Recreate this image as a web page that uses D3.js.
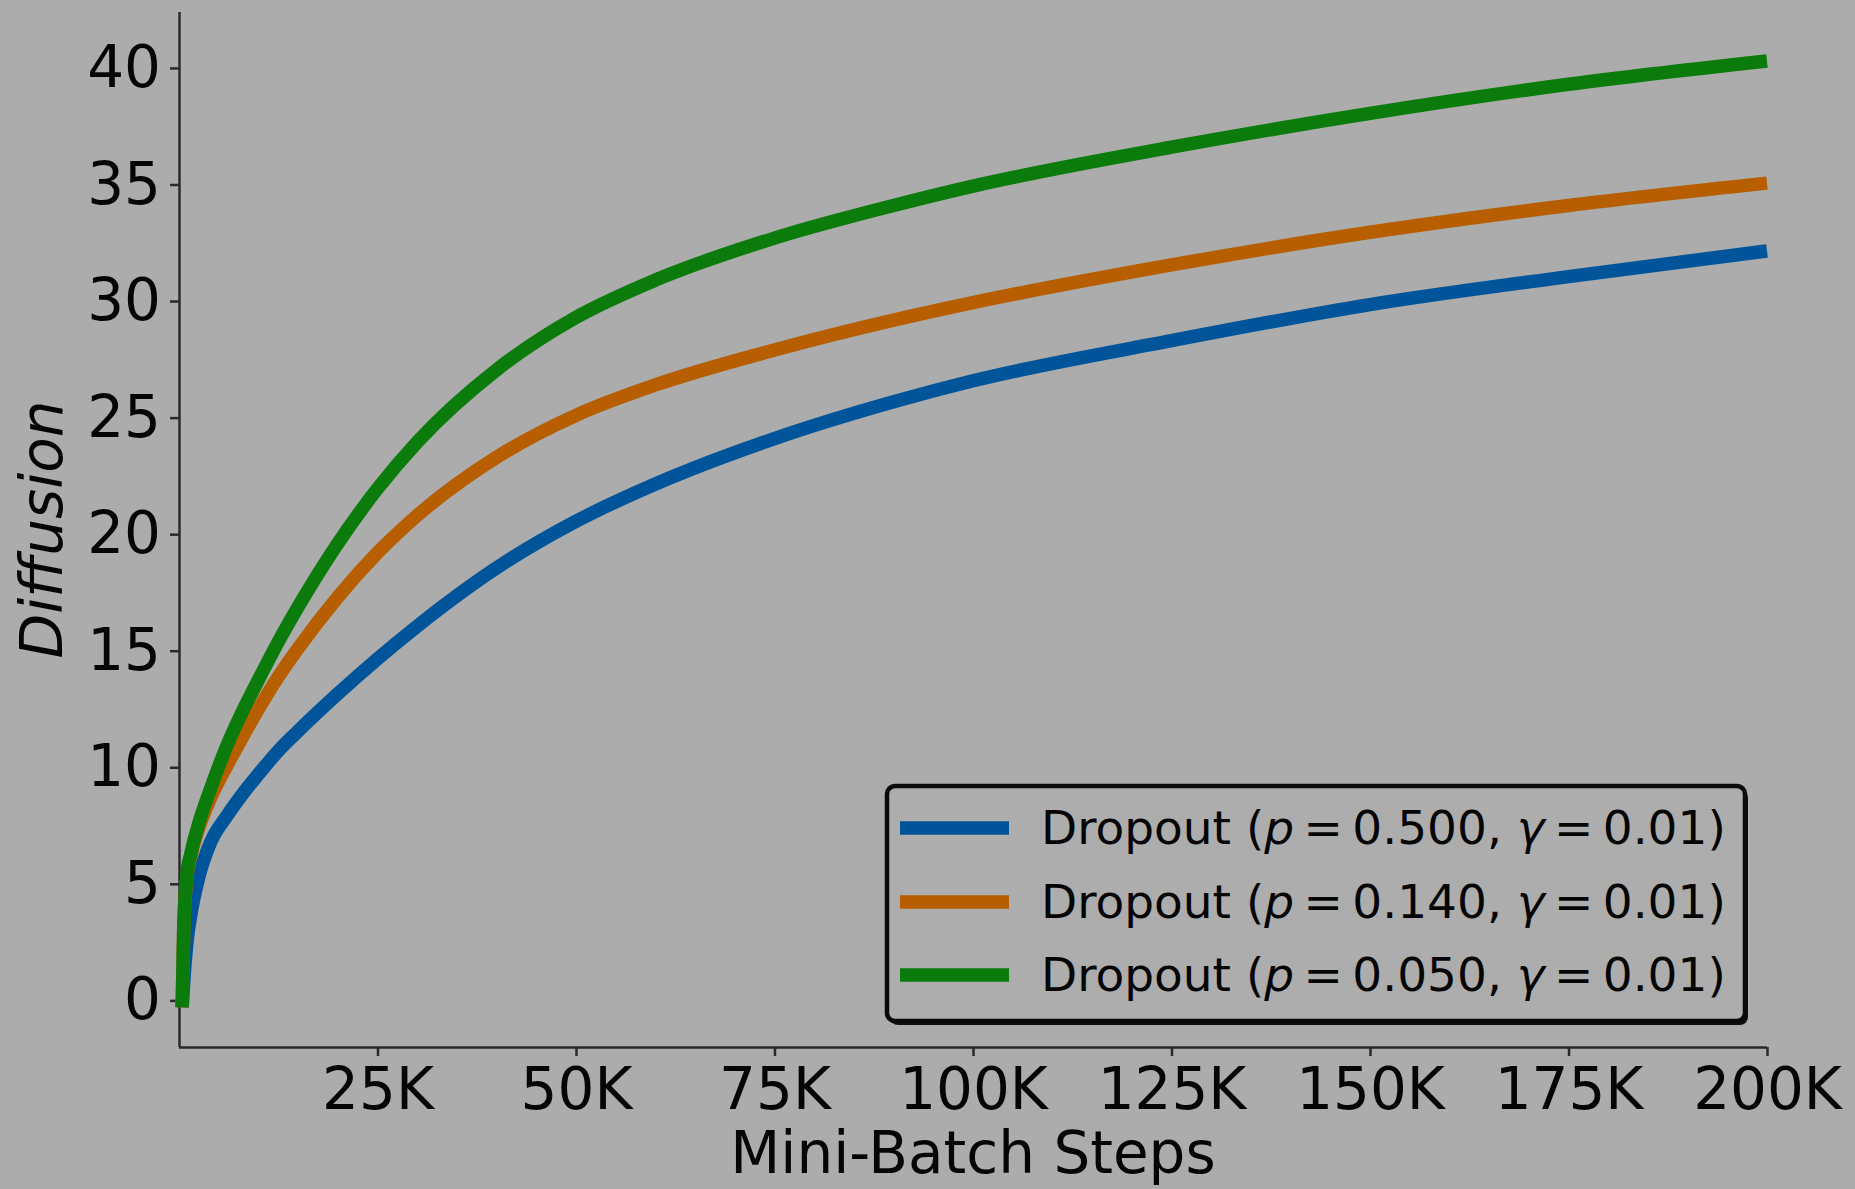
<!DOCTYPE html>
<html>
<head>
<meta charset="utf-8">
<script src="https://cdn.jsdelivr.net/npm/d3@7"></script>
<style>
  html, body { margin: 0; padding: 0; background: #acacac; }
  svg { display: block; }
  text { font-family: "DejaVu Sans", sans-serif; fill: #050505; }
</style>
</head>
<body>
<svg id="chart" width="1855" height="1189"></svg>
<script>
// Mini-batch steps (thousands) at which diffusion was recorded
const stepsK = [0.4, 0.6, 1, 1.5, 2.5, 4, 6, 8, 10, 12.5, 15, 20, 25, 30, 40, 50, 60, 75, 90, 100, 125, 150, 175, 200];

// Diffusion for each dropout rate
const diffusionP500 = [-0.3, 0.8, 2.5, 3.7, 5.3, 6.8, 7.9, 8.85, 9.7, 10.7, 11.55, 13.15, 14.65, 16.05, 18.55, 20.55, 22.15, 24.1, 25.68, 26.58, 28.3, 29.85, 31.05, 32.15];
const diffusionP140 = [-0.3, 3.1, 5.3, 6.2, 7.4, 8.7, 10.05, 11.3, 12.5, 13.88, 15.1, 17.3, 19.2, 20.8, 23.3, 25.1, 26.4, 27.9, 29.18, 29.93, 31.55, 32.95, 34.1, 35.06];
const diffusionP050 = [-0.3, 3.2, 5.4, 6.3, 7.6, 9.1, 10.9, 12.4, 13.75, 15.38, 16.88, 19.6, 21.95, 23.95, 27.05, 29.3, 30.9, 32.7, 34.1, 34.93, 36.6, 38.05, 39.3, 40.3];

const dropoutRates = ["0.500", "0.140", "0.050"];
const gammaValue = "0.01";
const seriesColors = ["#00559a", "#b65e00", "#0b7c0b"];

const xTickValues = [25000, 50000, 75000, 100000, 125000, 150000, 175000, 200000];
const yTickValues = [0, 5, 10, 15, 20, 25, 30, 35, 40];

const series = [diffusionP500, diffusionP140, diffusionP050].map((vals, i) => ({
  rate: dropoutRates[i],
  color: seriesColors[i],
  points: stepsK.map((s, j) => ({ step: s * 1000, value: vals[j] }))
}));

const svg = d3.select("#chart");
const plot = { left: 179, right: 1767, top: 12, bottom: 1047 };

const x = d3.scaleLinear().domain([0, 200000]).range([plot.left, plot.right]);
const y = d3.scaleLinear().domain([-2.0, 42.4]).range([plot.bottom, plot.top]);

const fontSize = 58;

// Axes
const xAxis = d3.axisBottom(x)
  .tickValues(xTickValues)
  .tickFormat(d => (d / 1000) + "K")
  .tickSize(9)
  .tickPadding(12)
  .tickSizeOuter(0);
const yAxis = d3.axisLeft(y)
  .tickValues(yTickValues)
  .tickSize(9)
  .tickPadding(9)
  .tickSizeOuter(0);

const gx = svg.append("g")
  .attr("transform", `translate(0,${plot.bottom})`)
  .call(xAxis);
const gy = svg.append("g")
  .attr("transform", `translate(${plot.left},0)`)
  .call(yAxis);

[gx, gy].forEach(g => {
  g.select(".domain").attr("stroke", "#2a2a2a").attr("stroke-width", 2.5);
  g.selectAll(".tick line").attr("stroke", "#2a2a2a").attr("stroke-width", 2.5);
  g.selectAll(".tick text")
    .attr("font-size", fontSize)
    .attr("font-family", "DejaVu Sans")
    .attr("fill", "#050505");
});
gy.select(".domain").attr("d", `M0.5,${plot.top}V${plot.bottom}`);
gx.select(".domain").attr("d", `M${plot.left},0.5H${plot.right}`);

// Axis titles
svg.append("text")
  .attr("x", (plot.left + plot.right) / 2)
  .attr("y", 1173)
  .attr("text-anchor", "middle")
  .attr("font-size", fontSize)
  .text("Mini-Batch Steps");

svg.append("text")
  .attr("transform", `translate(62,${(plot.top + plot.bottom) / 2}) rotate(-90)`)
  .attr("text-anchor", "middle")
  .attr("font-size", fontSize)
  .attr("font-style", "italic")
  .text("Diffusion");

// Curves
const line = d3.line()
  .x(d => x(d.step))
  .y(d => y(d.value))
  .curve(d3.curveMonotoneX);

svg.append("g")
  .selectAll("path")
  .data(series)
  .join("path")
  .attr("d", d => line(d.points))
  .attr("fill", "none")
  .attr("stroke", d => d.color)
  .attr("stroke-width", 13.5)
  .attr("stroke-linecap", "butt")
  .attr("stroke-linejoin", "round");

// Legend
const legend = { x: 887, y: 786, w: 858, h: 235, rowY: [828, 902, 975] };
const lg = svg.append("g");
lg.append("rect")
  .attr("x", legend.x + 3).attr("y", legend.y + 4)
  .attr("width", legend.w).attr("height", legend.h)
  .attr("rx", 8).attr("fill", "#111");
lg.append("rect")
  .attr("x", legend.x).attr("y", legend.y)
  .attr("width", legend.w).attr("height", legend.h)
  .attr("rx", 8).attr("fill", "#adadad")
  .attr("stroke", "#0a0a0a").attr("stroke-width", 4.5);

const thin = "\u2009";
series.forEach((s, i) => {
  const cy = legend.rowY[i];
  lg.append("line")
    .attr("x1", 900).attr("x2", 1009)
    .attr("y1", cy).attr("y2", cy)
    .attr("stroke", s.color).attr("stroke-width", 13.5);
  const t = lg.append("text")
    .attr("x", 1041).attr("y", cy + 16)
    .attr("font-size", 47)
    .style("white-space", "pre");
  t.append("tspan").text("Dropout (");
  t.append("tspan").attr("font-style", "italic").text("p");
  t.append("tspan").text(thin + "=" + thin + s.rate + ", ");
  t.append("tspan").attr("font-style", "italic").text("γ");
  t.append("tspan").text(thin + "=" + thin + gammaValue + ")");
});
</script>
</body>
</html>
